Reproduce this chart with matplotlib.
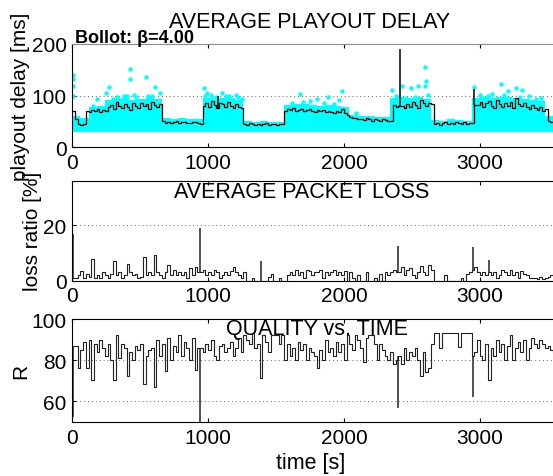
import matplotlib

matplotlib.use("Agg")
import matplotlib.pyplot as plt
import numpy as np

# averages are reported every 20 s, the per-packet band every 60 s
BIN = 20
BAND_BIN = 60

delay_avg = [
    70, 55, 45, 44, 45,
    70, 68, 72, 70, 74, 69, 73, 71,
    78, 82, 74, 88, 80, 76, 84, 79, 72, 85, 81, 77, 86, 80, 83, 75, 87, 82, 78, 84,
    52, 48, 50, 47, 49, 51, 48, 50, 49, 47, 48, 50, 49, 47, 46,
    80, 85, 78, 90, 82, 76, 86, 84, 79, 88, 81, 77, 83, 79, 76,
    46, 44, 47, 45, 43, 46, 44, 45, 47, 44, 46, 45, 44, 46, 45,
    70, 74, 72, 76, 71, 73, 75, 70, 72, 74, 71, 69, 73, 70, 72, 68, 71, 69, 67, 70, 68, 74, 66, 63,
    58, 56, 57, 54, 55, 53, 56, 54, 52, 55, 53, 52, 54, 53, 51, 52,
    82, 78, 80, 80, 76, 84, 79, 88, 82, 77, 92, 85, 80, 86, 83,
    46, 48, 44, 47, 49, 45, 48, 46, 50, 47, 45, 49, 46, 48, 47,
    82, 82, 88, 78, 85, 90, 80, 76, 92, 84, 79, 86, 81, 88, 77, 95, 83, 80, 86, 78, 74, 82, 76, 72, 78, 70, 74,
    52, 50, 51,
]
# single short peaks of the average delay
delay_spike_t = [1075, 2410, 2960]
delay_spike_ms = [100, 190, 112]

# top of the dense cloud of per-packet delays
band_top = [
    60, 56, 78, 80, 92, 93, 95, 92, 94, 95, 93,
    57, 55, 56, 54, 55,
    95, 98, 96, 95, 92,
    51, 50, 51, 49, 50,
    82, 84, 83, 82, 81, 82, 80, 78,
    63, 61, 60, 59, 58,
    95, 97, 95, 98, 94,
    53, 52, 54, 53, 52,
    96, 98, 96, 97, 98, 95, 93, 92, 90,
    60, 57,
]
band_floor = 30

outlier_t = [5, 5, 5, 8, 156, 182, 247, 273, 299, 423, 423, 403, 455, 545, 558, 610, 649, 506,
             969, 974, 995, 1104, 1156, 1247, 1203, 1675, 1753, 1805, 1883, 1987, 1961, 2091,
             2351, 2429, 2494, 2545, 2597, 2605, 2597, 2455, 2961, 3026, 3091, 3156, 3208,
             3265, 3312, 3364, 3104, 3416,
             330, 380, 470, 590, 1020, 1060, 1130, 1220, 1620, 1700, 1850, 1930,
             2380, 2520, 2620, 3000, 3060, 3180, 3300, 3450]
outlier_ms = [141, 132, 119, 99, 80, 93, 106, 116, 93, 151, 132, 99, 101, 137, 99, 116, 105, 90,
              114, 99, 106, 106, 99, 93, 101, 103, 90, 93, 98, 109, 92, 67,
              111, 118, 114, 118, 155, 129, 118, 96, 116, 96, 104, 122, 109,
              114, 111, 99, 93, 93,
              98, 100, 97, 99, 101, 98, 100, 97, 86, 88, 85, 84,
              100, 98, 101, 101, 99, 102, 98, 96]

loss_pct = [
    1, 1, 2, 3.5, 1, 2.5, 1.5, 7.8, 1, 2,
    1, 3, 2, 1, 2.5, 7.2, 2, 3, 1, 2,
    6, 3, 2, 2.5, 1, 1.5, 8.4, 2, 3, 2,
    9.2, 3, 2, 1, 3, 5.6, 2, 4, 2, 3,
    2, 3, 1, 4.5, 2, 5.1, 3, 3, 4, 2,
    3, 2, 4, 3, 1, 2, 3, 2, 3.5, 4.8,
    3, 2, 1, 3, 0, 0, 1, 0, 0, 0,
    0, 0, 1.5, 2.5, 0, 0, 1, 0, 0, 2,
    3, 2, 4, 2, 3, 1, 4, 3.6, 2, 3,
    3, 4, 1, 3, 2, 3, 4, 2, 3, 2,
    3.5, 0, 3, 1, 0, 2, 0, 0, 3, 0,
    0, 1, 0, 2.5, 0, 3, 2, 3, 4, 3,
    3, 5, 2, 4, 4.4, 2, 1, 3, 5.4, 3,
    2, 5.5, 4, 0, 0, 0, 0, 2, 0, 0,
    0, 0, 0, 1, 0, 2.5, 3, 4, 5, 3,
    2, 3, 2, 3, 2, 3, 1, 2, 4, 3,
    2, 4, 2, 3, 1, 3.5, 2.5, 2, 1, 1,
    1, 0.5, 1.5, 0.5, 1, 1.5, 2, 2,
]
loss_spike_t = [3, 940, 1388, 2398, 2953, 3068]
loss_spike_pct = [16.8, 18.8, 7.2, 12.3, 12, 7.4]

r_factor = [
    87, 87, 76, 85, 89, 76.3, 90, 70.4, 88, 84,
    90, 86, 82, 88, 80, 70.4, 92, 81, 88, 86,
    72.5, 84, 80, 87, 85, 88, 68.5, 82, 85, 86,
    67.2, 90, 82, 88, 74.6, 91, 80, 87, 84, 92,
    82, 89, 86, 80, 91, 75.4, 86, 86, 84, 88,
    85, 90, 82, 80, 87, 88, 84, 86, 89, 82,
    86, 91, 84, 92, 90, 88, 93, 86, 88, 71.4,
    92, 89, 84, 92, 92, 92, 88, 92, 80, 88,
    82, 86, 80, 89, 85, 88, 80, 86, 84, 82,
    76.4, 85, 80, 90, 84, 86, 82, 89, 84, 88,
    80, 92, 88, 85, 92, 90, 86, 79, 91, 92,
    92, 88, 80, 88, 85, 82, 80, 84, 78, 80,
    82, 78, 86, 80, 84, 82, 86, 80, 72.2, 84,
    74.3, 76, 88, 93, 93, 85.7, 93, 93, 93, 93,
    93, 93, 86.5, 93, 93, 93, 93, 82, 84, 90,
    82, 80, 88, 70.2, 86, 82, 90, 84, 88, 80,
    87, 92, 80, 86, 89, 84, 90, 80, 86, 91,
    88, 86, 90, 88, 86, 87, 85, 84,
]
r_spike_t = [3, 940, 2400, 2953]
r_spike_val = [52.5, 48, 56.6, 62]

W, H = 553, 477
plt.rcParams["font.family"] = ["Liberation Sans", "DejaVu Sans"]
plt.rcParams["font.size"] = 15


def steps(values, width):
    """Edges and values for a post-step line that covers every bin."""
    t = np.arange(len(values) + 1) * width
    return t, np.append(values, values[-1])


def spikes(ax, values, spike_t, spike_v, **kw):
    # thin peaks drawn from the level of the bin they sit in
    base = [values[int(t // BIN)] for t in spike_t]
    ax.vlines(spike_t, base, spike_v, **kw)


fig = plt.figure(figsize=(W / 100, H / 100), dpi=100)


def axes_at(top, bottom):
    # positions in pixels of the reference; right spine falls just off the image
    return fig.add_axes([72.3 / W, 1 - bottom / H, 488.9 / W, (bottom - top) / H])


def style(ax, ylim, yticks):
    ax.set_xlim(0, 3600)
    ax.set_ylim(*ylim)
    ax.set_xticks([0, 1000, 2000, 3000])
    ax.set_yticks(yticks)
    ax.tick_params(direction="in", length=3, width=0.8, top=True, right=True, pad=4)
    ax.yaxis.grid(True, linestyle=(0, (1, 3)), color="0.4", linewidth=0.7)
    ax.set_axisbelow(True)
    for sp in ax.spines.values():
        sp.set_linewidth(0.8)


ax1 = axes_at(45, 148.4)
tb, vb = steps(band_top, BAND_BIN)
ax1.fill_between(tb, band_floor, vb, step="post", color="#00FFFF", linewidth=0, zorder=2)
ax1.plot(outlier_t, outlier_ms, "o", color="#00FFFF", markersize=3.2, markeredgewidth=0, zorder=2)
t, v = steps(delay_avg, BIN)
ax1.step(t, v, where="post", color="black", linewidth=0.9, zorder=3)
spikes(ax1, delay_avg, delay_spike_t, delay_spike_ms, color="black", linewidth=1.1, zorder=3)
style(ax1, (0, 200), [0, 100, 200])
ax1.spines["top"].set_color("0.55")
ax1.set_ylabel("playout delay [ms]", labelpad=1)

ax2 = axes_at(181.5, 281.7)
t, v = steps(loss_pct, BIN)
ax2.step(t, v, where="post", color="#222222", linewidth=0.8)
spikes(ax2, loss_pct, loss_spike_t, loss_spike_pct, color="#222222", linewidth=1.1)
style(ax2, (0, 36), [0, 20])
ax2.set_ylabel("loss ratio [%]", labelpad=1)

ax3 = axes_at(320, 423)
t, v = steps(r_factor, BIN)
ax3.step(t, v, where="post", color="#222222", linewidth=0.8)
spikes(ax3, r_factor, r_spike_t, r_spike_val, color="#222222", linewidth=1.1)
style(ax3, (50, 100), [60, 80, 100])
ax3.set_ylabel("R", labelpad=1)

fig.text(309.5 / W, 1 - 28.5 / H, "AVERAGE PLAYOUT DELAY", ha="center", va="baseline", fontsize=15.5)
fig.text(75 / W, 1 - 43.3 / H, "Bollot: \u03b2=4.00", ha="left", va="baseline",
         fontsize=13, fontweight="bold")
fig.text(301.5 / W, 1 - 198.3 / H, "AVERAGE PACKET LOSS", ha="center", va="baseline", fontsize=15.5)
fig.text(316.5 / W, 1 - 334.7 / H, "QUALITY vs. TIME", ha="center", va="baseline", fontsize=15.5)
fig.text(311 / W, 1 - 469 / H, "time [s]", ha="center", va="baseline", fontsize=15.5)

fig.savefig("out.png", dpi=100)
plt.close(fig)
